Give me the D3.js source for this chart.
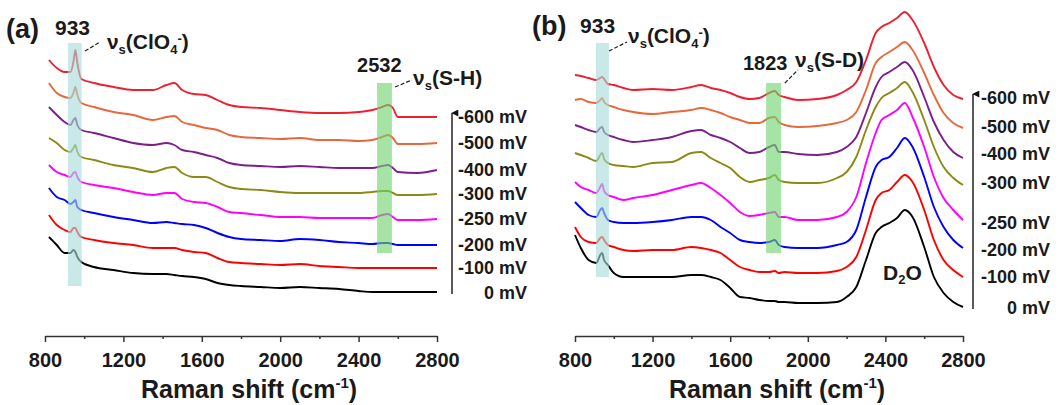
<!DOCTYPE html>
<html>
  <head>
    <meta charset="utf-8" />
    <script src="https://cdn.jsdelivr.net/npm/d3@7/dist/d3.min.js"></script>
    <style>
      body { margin: 0; background: #fff; }
      text { font-family: "Liberation Sans", Arial, sans-serif; font-weight: bold; fill: #1a1a1a; }
    </style>
  </head>
  <body>
    <svg width="1064" height="405" id="mainsvg"></svg>
    <script>
      // wavenumber grids (cm-1)
      const xGridA = [820, 860, 900, 930, 945, 955, 965, 985, 1050, 1150, 1250, 1350, 1420, 1460, 1500, 1560, 1620, 1680, 1740, 1800, 1900, 2000, 2100, 2200, 2300, 2400, 2470, 2520, 2550, 2575, 2600, 2700, 2800];
      const xGridB = [800, 830, 870, 910, 930, 940, 950, 970, 1000, 1050, 1100, 1200, 1300, 1400, 1450, 1500, 1550, 1600, 1650, 1700, 1750, 1800, 1830, 1850, 1880, 1950, 2050, 2150, 2200, 2250, 2300, 2350, 2380, 2420, 2460, 2500, 2540, 2600, 2650, 2700, 2750, 2800];

      const potentials = ["-600 mV", "-500 mV", "-400 mV", "-300 mV", "-250 mV", "-200 mV", "-100 mV", "0 mV"];
      const colors = ["#ee1f30", "#e8683c", "#7c1f8c", "#8a8a14", "#ff00ff", "#0000ff", "#ff0000", "#000000"];

      // (a) H2O - stacked intensities (a.u.)
      const a600 = [270, 262, 258, 258, 268, 280, 267, 251, 247, 243, 240, 240, 245, 247, 240, 236, 235, 230, 225, 223, 222, 220, 218, 217, 217, 218, 220, 223, 225, 222, 213, 213, 213];
      const a500 = [247, 237, 233, 232, 237, 243, 235, 227, 223, 218, 215, 210, 213, 214, 208, 205, 202, 200, 195, 193, 192, 191, 192, 190, 190, 189, 190, 193, 195, 192, 186, 186, 187];
      const a400 = [223, 215, 208, 205, 210, 212, 205, 200, 197, 192, 187, 185, 187, 185, 180, 178, 175, 172, 167, 165, 164, 163, 164, 163, 162, 162, 162, 164, 165, 162, 158, 157, 160];
      const a300 = [192, 187, 180, 178, 182, 185, 178, 173, 170, 165, 162, 158, 162, 163, 157, 153, 153, 148, 143, 141, 140, 138, 137, 137, 137, 137, 138, 139, 139, 137, 135, 135, 136];
      const a250 = [165, 158, 155, 153, 157, 158, 153, 148, 145, 142, 138, 135, 137, 137, 131, 128, 127, 123, 118, 117, 115, 113, 113, 112, 112, 112, 112, 115, 116, 113, 110, 110, 111];
      const a200 = [142, 133, 130, 126, 128, 130, 123, 120, 117, 113, 110, 107, 108, 107, 106, 105, 102, 97, 93, 91, 90, 89, 91, 90, 88, 87, 86, 87, 87, 86, 85, 85, 85];
      const a100 = [115, 105, 100, 98, 102, 102, 98, 93, 90, 87, 85, 82, 82, 82, 80, 78, 77, 72, 68, 67, 66, 65, 66, 64, 63, 62, 62, 62, 62, 62, 62, 62, 62];
      const a000 = [93, 85, 77, 77, 80, 78, 73, 68, 63, 60, 57, 56, 56, 55, 54, 53, 51, 47, 45, 44, 43, 42, 43, 42, 41, 39, 38, 38, 38, 38, 38, 38, 38];

      // (b) D2O - stacked intensities (a.u.)
      const b600 = [255, 254, 252, 250, 252, 253, 251, 246, 245, 242, 240, 241, 240, 243, 245, 242, 240, 237, 233, 231, 232, 237, 239, 235, 233, 230, 231, 235, 240, 248, 270, 297, 303, 307, 312, 318, 310, 287, 263, 245, 235, 231];
      const b500 = [230, 231, 228, 227, 230, 232, 228, 225, 223, 220, 218, 216, 218, 220, 222, 220, 217, 213, 210, 207, 207, 212, 213, 208, 205, 203, 204, 207, 210, 218, 240, 267, 273, 278, 283, 288, 280, 257, 235, 217, 207, 202];
      const b400 = [205, 203, 200, 198, 202, 203, 198, 195, 193, 190, 188, 190, 193, 199, 200, 195, 192, 188, 182, 177, 178, 183, 185, 178, 178, 176, 175, 178, 183, 193, 217, 243, 253, 258, 263, 268, 260, 233, 208, 190, 178, 172];
      const b300 = [177, 175, 172, 169, 175, 177, 171, 167, 165, 164, 163, 167, 168, 177, 178, 172, 167, 162, 153, 148, 150, 152, 155, 150, 148, 147, 147, 152, 158, 173, 200, 223, 232, 237, 242, 248, 238, 210, 183, 163, 152, 145];
      const b250 = [148, 143, 140, 137, 143, 146, 139, 135, 133, 130, 132, 135, 140, 145, 147, 142, 135, 127, 118, 114, 115, 117, 118, 113, 113, 110, 110, 113, 118, 133, 167, 197, 210, 215, 220, 227, 213, 183, 153, 132, 120, 110];
      const b200 = [128, 122, 115, 113, 120, 122, 117, 110, 108, 107, 107, 108, 110, 113, 113, 110, 103, 97, 90, 88, 87, 88, 90, 85, 83, 82, 82, 85, 88, 100, 133, 163, 170, 173, 182, 192, 183, 153, 123, 103, 90, 82];
      const b100 = [103, 93, 88, 87, 92, 93, 90, 85, 83, 80, 79, 80, 80, 83, 82, 80, 77, 70, 63, 60, 58, 58, 59, 57, 58, 57, 57, 59, 63, 73, 100, 130, 137, 140, 148, 155, 148, 120, 90, 70, 60, 53];
      const b000 = [95, 82, 70, 67, 75, 77, 70, 65, 57, 53, 53, 53, 53, 55, 55, 53, 50, 42, 33, 32, 30, 29, 29, 28, 28, 27, 27, 28, 33, 43, 70, 97, 103, 107, 112, 120, 113, 83, 53, 37, 28, 23];

      const majorTicks = [800, 1200, 1600, 2000, 2400, 2800];
      const minorTicks = [1000, 1400, 1800, 2200, 2600];

      const svg = d3.select("#mainsvg");
      const y = d3.scaleLinear().domain([0, 320]).range([330, 10]);

      svg.append("defs").append("marker")
        .attr("id", "head")
        .attr("viewBox", "0 0 10 10")
        .attr("refX", 5).attr("refY", 1)
        .attr("markerWidth", 7).attr("markerHeight", 9)
        .attr("markerUnits", "userSpaceOnUse")
        .attr("orient", "auto-start-reverse")
        .append("path").attr("d", "M0,10 L5,0 L10,10 Z").attr("fill", "#111");

      function panel(cfg) {
        const x = d3.scaleLinear().domain([800, 2800]).range(cfg.range);
        const g = svg.append("g");

        // spectra
        const line = d3.line()
          .x((d, i) => x(cfg.grid[i]))
          .y((d) => y(d))
          .curve(d3.curveMonotoneX);
        g.selectAll(".trace")
          .data(cfg.series)
          .join("path")
          .attr("class", "trace")
          .attr("fill", "none")
          .attr("stroke", (d, i) => colors[i])
          .attr("stroke-width", 1.9)
          .attr("stroke-linejoin", "round")
          .attr("d", line);

        // highlight bands on top
        g.selectAll(".band")
          .data(cfg.bands)
          .join("rect")
          .attr("class", "band")
          .attr("x", (d) => x(d.w0))
          .attr("width", (d) => x(d.w1) - x(d.w0))
          .attr("y", (d) => y(d.top))
          .attr("height", (d) => y(d.bottom) - y(d.top))
          .attr("fill", (d) => d.color)
          .attr("fill-opacity", 0.62);

        // axis
        const ax = g.append("g").attr("transform", "translate(0,336)")
          .call(d3.axisBottom(x).tickValues(majorTicks).tickSize(6).tickSizeOuter(0).tickPadding(11).tickFormat(d3.format("d")));
        g.append("g").attr("transform", "translate(0,336)")
          .call(d3.axisBottom(x).tickValues(minorTicks).tickSize(3).tickSizeOuter(0).tickFormat(""))
          .select(".domain").remove();
        g.selectAll(".tick line, .domain").attr("stroke", "#333").attr("stroke-width", 1.5);
        ax.selectAll("text").attr("font-size", 20).attr("font-family", "Liberation Sans, Arial, sans-serif").attr("font-weight", "bold").attr("fill", "#222");

        const title = g.append("text")
          .attr("x", (cfg.range[0] + cfg.range[1]) / 2 + 8).attr("y", 398)
          .attr("text-anchor", "middle").attr("font-size", 25);
        title.append("tspan").text("Raman shift (cm");
        title.append("tspan").attr("font-size", 15).attr("dy", -10).text("-1");
        title.append("tspan").attr("dy", 10).text(")");

        // potential labels + arrow
        const ends = cfg.series.map((s) => y(s[s.length - 1]));
        g.selectAll(".pot")
          .data(potentials)
          .join("text")
          .attr("class", "pot")
          .attr("x", cfg.labelX)
          .attr("y", (d, i) => ends[i] + cfg.labelNudge[i])
          .attr("dy", "0.36em")
          .attr("text-anchor", "end")
          .attr("font-size", 18)
          .text((d) => d);
        g.append("line")
          .attr("x1", cfg.arrowX).attr("x2", cfg.arrowX)
          .attr("y1", ends[7] + cfg.labelNudge[7] + 1)
          .attr("y2", ends[0] + cfg.labelNudge[0] - 4)
          .attr("stroke", "#222").attr("stroke-width", 1.5)
          .attr("marker-end", "url(#head)");

        // annotations
        g.append("text").attr("x", cfg.tag[0]).attr("y", cfg.tag[1]).attr("font-size", 27).text(cfg.name);
        cfg.notes.forEach((n) => {
          const t = g.append("text").attr("x", x(n.w)).attr("y", y(n.v)).attr("font-size", n.size);
          n.parts.forEach((p) => {
            t.append("tspan").attr("font-size", p.s || null).attr("dy", p.dy || null).text(p.t);
          });
        });
        cfg.leaders.forEach((l) => {
          g.append("line")
            .attr("x1", x(l[0])).attr("y1", y(l[1]))
            .attr("x2", x(l[2])).attr("y2", y(l[3]))
            .attr("stroke", "#222").attr("stroke-width", 1.2)
            .attr("stroke-dasharray", "4,2");
        });
      }

      const clo4 = [{ t: "ν" }, { t: "s", s: 13, dy: 5 }, { t: "(ClO", dy: -5 }, { t: "4", s: 13, dy: 5 }, { t: "-", s: 13, dy: -11 }, { t: ")", dy: 6 }];

      panel({
        name: "(a)", tag: [6, 38],
        range: [45, 437], grid: xGridA,
        series: [a600, a500, a400, a300, a250, a200, a100, a000],
        bands: [
          { w0: 917, w1: 987, top: 287, bottom: 44, color: "#a6dcd8" },
          { w0: 2494, w1: 2570, top: 247, bottom: 77, color: "#6fd36f" }
        ],
        labelX: 527, labelNudge: [0, 0, 0, 0, 0, 0, 0, 1], arrowX: 452,
        notes: [
          { w: 851, v: 295, size: 21, parts: [{ t: "933" }] },
          { w: 1116, v: 281, size: 21, parts: clo4 },
          { w: 2392, v: 258, size: 20, parts: [{ t: "2532" }] },
          { w: 2678, v: 245, size: 21, parts: [{ t: "ν" }, { t: "s", s: 13, dy: 5 }, { t: "(S-H)", dy: -5 }] }
        ],
        leaders: [[1004, 279, 1081, 288], [2586, 243, 2672, 250]]
      });

      panel({
        name: "(b)", tag: [532, 35],
        range: [575, 963], grid: xGridB,
        series: [b600, b500, b400, b300, b250, b200, b100, b000],
        bands: [
          { w0: 908, w1: 975, top: 287, bottom: 53, color: "#a6dcd8" },
          { w0: 1785, w1: 1862, top: 247, bottom: 77, color: "#6fd36f" }
        ],
        labelX: 1050, labelNudge: [-1, -1, -4, -2, 3, 2, 0, 1], arrowX: 973,
        notes: [
          { w: 826, v: 297, size: 21, parts: [{ t: "933" }] },
          { w: 1073, v: 287, size: 21, parts: clo4 },
          { w: 1666, v: 260, size: 20, parts: [{ t: "1823" }] },
          { w: 1934, v: 263, size: 21, parts: [{ t: "ν" }, { t: "s", s: 13, dy: 5 }, { t: "(S-D)", dy: -5 }] },
          { w: 2388, v: 50, size: 21, parts: [{ t: "D" }, { t: "2", s: 13, dy: 4 }, { t: "O", dy: -4 }] }
        ],
        leaders: [[975, 279, 1068, 288], [1882, 247, 1949, 260]]
      });
    </script>
  </body>
</html>
